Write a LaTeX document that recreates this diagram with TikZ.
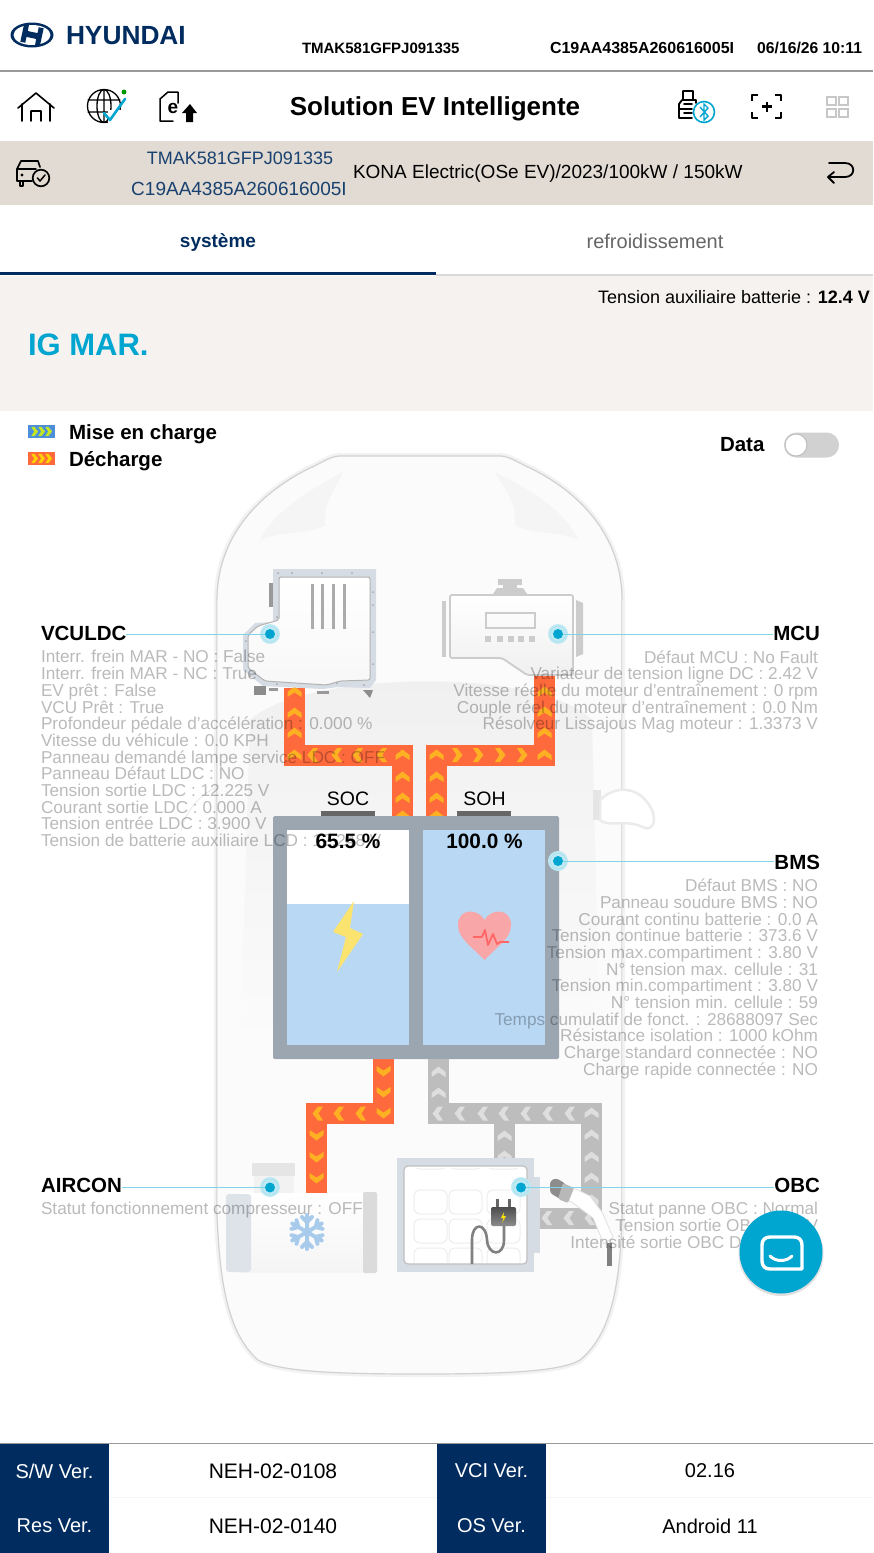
\documentclass[tikz,border=0pt]{standalone}
\usepackage{fontspec}
\setmainfont{Liberation Sans}
\usetikzlibrary{shadings}
\definecolor{navy}{HTML}{002C5F}
\definecolor{cyanb}{HTML}{00A5D0}
\definecolor{leader}{HTML}{7FD4E8}
\definecolor{beige}{HTML}{E2DBD3}
\definecolor{paneb}{HTML}{F5F2F0}
\definecolor{pipeo}{HTML}{FF6A3D}
\definecolor{chevo}{HTML}{FDB022}
\definecolor{pipeg}{HTML}{BDBDBD}
\definecolor{chevg}{HTML}{DEDEDE}
\definecolor{frameb}{HTML}{9BA6B1}
\definecolor{fillb}{HTML}{B9D8F4}
\definecolor{platec}{HTML}{D5DCE3}
\definecolor{boltc}{HTML}{FBE36F}
\definecolor{heartc}{HTML}{F9A6A8}
\definecolor{flakec}{HTML}{A8CBEC}
\definecolor{legblue}{HTML}{4C8FD8}
\definecolor{leglime}{HTML}{C5E625}
\definecolor{legyel}{HTML}{FFD000}
\newcommand{\fsz}[2]{\fontsize{#1}{#2}\selectfont}
\newcommand{\chv}[4]{\fill[#4,shift={(#1,#2)},rotate=#3] (-5,-7) -- (0,-7) -- (5.5,0) -- (0,7) -- (-5,7) -- (-0.5,0) -- cycle;}
\tikzset{
  x=1pt,y=-1pt,
  txt/.style={inner sep=0pt,outer sep=0pt,text=black},
  datal/.style={txt,text opacity=0.27,align=left,anchor=north west,font=\fsz{17.2}{16.7}},
  datar/.style={txt,text opacity=0.27,align=right,anchor=north east,font=\fsz{17.2}{16.7}},
  title/.style={txt,font=\fsz{20.5}{21}\bfseries},
  foot/.style={txt,font=\fsz{20}{20}},
  footh/.style={txt,text=white,font=\fsz{20}{20}},
  pipeorange/.style={draw=pipeo,line width=21pt,line cap=butt,line join=miter},
  pipegrey/.style={draw=pipeg,line width=21pt,line cap=butt,line join=miter},
  leaderline/.style={draw=leader,line width=1pt},
  hot/.style={circle,fill=cyanb,minimum size=10pt,inner sep=0pt},
  icon/.style={draw=black,line width=1.6pt,line join=round,line cap=round},
}
\begin{document}
\begin{tikzpicture}
\useasboundingbox (0,0) rectangle (873,1553);
\fill[white] (0,0) rectangle (873,1553);

% header
\fill[navy] (32,35) ellipse [x radius=21.5,y radius=12.5];
\fill[white] (32,35) ellipse [x radius=18.5,y radius=10];
\fill[navy,rotate around={-12:(32,35)}] (22,26) -- (27,26) -- (27,32) -- (37,32) -- (37,26) -- (42,26) -- (42,44) -- (37,44) -- (37,38) -- (27,38) -- (27,44) -- (22,44) -- cycle;
\node[txt,anchor=west,text=navy,font=\fsz{26.3}{26}\bfseries] (brand) at (66,35.5) {HYUNDAI};
\node[txt,anchor=west,font=\fsz{15}{16}\bfseries] (vin) at (302,48) {TMAK581GFPJ091335};
\node[txt,anchor=west,font=\fsz{16}{16}\bfseries] (cid) at (550,48) {C19AA4385A260616005I};
\node[txt,anchor=east,font=\fsz{15.7}{16}\bfseries] (dt) at (862,48) {06/16/26 10:11};
\fill[black!40] (0,70) rectangle (873,71.5);

% toolbar
\draw[icon] (18,108) -- (36,93) -- (54,108) (22,104) -- (22,121) (50,104) -- (50,121) (31,121) -- (31,111) -- (41,111) -- (41,121);
\draw[icon,line width=1.3pt] (104,106) circle (16.5) (104,106) ellipse [x radius=7,y radius=16.5] (88,100) -- (120,100) (88,112) -- (120,112) (104,90) -- (104,122);
\fill[white] (108,110) rectangle (124,124);
\draw[draw=cyanb,line width=2.6pt,line cap=round,line join=round] (104,113) -- (110,120) -- (125,99);
\fill[green!60!black] (124,92) circle (2.5);
\draw[icon,line width=1.5pt] (173,121) -- (160,121) -- (160,99) -- (168,92) -- (178,92) -- (178,103);
\node[txt,font=\fsz{19}{19}\bfseries] (einv) at (173,108) {e};
\fill[black] (190,104) -- (197,113) -- (193,113) -- (193,122) -- (186,122) -- (186,113) -- (182,113) -- cycle;
\node[txt,font=\fsz{26}{26}\bfseries] (apptitle) at (435,108.5) {Solution EV Intelligente};
\draw[icon,line width=1.8pt] (682,100) -- (696,100) -- (696,103) (682,100) -- (679,104) -- (679,118) -- (692,118) (683,91) rectangle (693,100) (679,109) -- (692,109) (684,104) -- (692,104) (684,113) -- (692,113);
\draw[draw=cyanb,line width=1.6pt,fill=white] (704,112) circle (10.5);
\draw[draw=cyanb,line width=1.4pt] (700,107) -- (708,116) -- (704,120) -- (704,104) -- (708,108) -- (700,117);
\draw[icon,line width=2.2pt,line cap=butt] (752,101) -- (752,95) -- (758,95) (775,95) -- (781,95) -- (781,101) (781,112) -- (781,118) -- (775,118) (758,118) -- (752,118) -- (752,112) (762,106.5) -- (772,106.5) (767,101.5) -- (767,111.5);
\draw[draw=black!22,line width=2pt] (827,97) rectangle (836,104.5) (839,97) rectangle (848,104.5) (827,109) rectangle (836,116.5) (839,109) rectangle (848,116.5);

% vehicle band
\fill[beige] (0,141) rectangle (873,205);
\draw[icon,line width=1.7pt] (17,181) -- (17,169) -- (21,161) -- (38,161) -- (40,167) (17,169) -- (36,169) (17,181) -- (32,181) (20,181) -- (20,186) -- (23,186) -- (23,181);
\fill[black] (22,175) circle (1.6);
\draw[icon,line width=1.7pt] (41,178) circle (8.3);
\draw[icon,line width=1.5pt] (37.5,178) -- (40,181) -- (45,175);
\node[txt,text=navy!90,font=\fsz{18}{20}] (vin2) at (240,158) {TMAK581GFPJ091335};
\node[txt,text=navy!90,font=\fsz{19}{20}] (cid2) at (239,188.5) {C19AA4385A260616005I};
\node[txt,anchor=west,font=\fsz{19}{20}] (model) at (353,174) {KONA Electric(OSe EV)/2023/100kW / 150kW};
\draw[icon,line width=1.8pt,line cap=round] (829,163) -- (845,163) .. controls (856,163) and (856,177) .. (845,177) -- (829,177);
\draw[icon,line width=1.8pt] (834,172) -- (828,177) -- (834,183);

% tabs
\node[txt,text=navy,font=\fsz{19}{19}\bfseries] (tab1) at (218,242) {système};
\node[txt,text=black!60,font=\fsz{20}{20}] (tab2) at (655,241.5) {refroidissement};
\fill[black!15] (436,274) rectangle (873,276);
\fill[navy] (0,272) rectangle (436,275);

% status panel
\fill[paneb] (0,276) rectangle (873,411);
\node[txt,anchor=east,font=\fsz{18}{19}] (aux) at (870,297.5) {Tension auxiliaire batterie : \textbf{12.4 V}};
\node[txt,anchor=west,text=cyanb,font=\fsz{31}{32}\bfseries] (ig) at (28,345) {IG MAR.};

% legend
\fill[legblue] (28,425) rectangle (55,438);
\foreach \q in {34.5,41.5,48.5}{\fill[leglime,shift={(\q,431.5)},scale=0.65] (-5,-7) -- (0,-7) -- (5.5,0) -- (0,7) -- (-5,7) -- (-0.5,0) -- cycle;}
\fill[pipeo] (28,452) rectangle (55,465);
\foreach \q in {34.5,41.5,48.5}{\fill[legyel,shift={(\q,458.5)},scale=0.65] (-5,-7) -- (0,-7) -- (5.5,0) -- (0,7) -- (-5,7) -- (-0.5,0) -- cycle;}
\node[title,anchor=west] (leg1) at (69,434.5) {Mise en charge};
\node[title,anchor=west] (leg2) at (69,461.5) {Décharge};
\node[title,anchor=west] (datalbl) at (720,445) {Data};
\fill[black!18,rounded corners=12.4pt] (784,432.5) rectangle (839,457.5);
\draw[fill=white,draw=black!25,line width=1pt] (796,445) circle (11);

% car body
\def\carpath{(340,456) -- (500,456) .. controls (510,456) and (520,464) .. (530,468) .. controls (585,495) and (622,540) .. (622,600) -- (622,1215) .. controls (620,1290) and (610,1335) .. (580,1360) .. controls (560,1372) and (500,1374) .. (420,1374) .. controls (340,1374) and (280,1372) .. (258,1360) .. controls (230,1335) and (220,1290) .. (217,1215) -- (217,600) .. controls (217,540) and (255,495) .. (310,468) .. controls (320,464) and (330,456) .. (340,456) -- cycle}
\draw[draw=black!5,line width=6pt] \carpath;
\draw[draw=black!18,line width=1.2pt,fill=black!1.5] \carpath;
\fill[black!4] (343,472) .. controls (310,490) and (275,510) .. (260,540) .. controls (285,530) and (310,535) .. (325,525) .. controls (322,505) and (335,490) .. (343,472) -- cycle;
\fill[black!4] (495,472) .. controls (530,490) and (565,510) .. (578,540) .. controls (555,530) and (530,535) .. (515,525) .. controls (518,505) and (505,490) .. (495,472) -- cycle;
\shade[top color=black!6,bottom color=black!1.5] (250,720) .. controls (300,672) and (540,665) .. (592,720) -- (600,1050) -- (240,1050) -- cycle;
\draw[draw=black!8,line width=1pt] (217,600) -- (217,1215) (622,600) -- (622,1215);
\fill[black!10] (593,790) rectangle (601,820);
\draw[draw=black!8,line width=2.5pt,fill=white] (600,800) .. controls (615,785) and (640,785) .. (652,810) .. controls (657,822) and (652,830) .. (645,828) .. controls (625,818) and (610,828) .. (600,820) -- cycle;
\draw[draw=black!8,line width=1pt] (181,830) .. controls (188,805) and (205,792) .. (217,787);

% pipes (under the components)
\draw[pipeorange] (294.5,688) -- (294.5,755) -- (402.5,755) -- (402.5,816);
\draw[pipeorange] (436.5,816) -- (436.5,755) -- (544.5,755) -- (544.5,675);
\draw[pipeorange] (383.5,1058) -- (383.5,1113.5) -- (316.5,1113.5) -- (316.5,1195);
\draw[pipegrey] (438.5,1058) -- (438.5,1113.5) -- (591.5,1113.5) -- (591.5,1218) -- (535,1218);
\draw[pipegrey] (504.5,1113) -- (504.5,1160);
\foreach \p in {692,713,733,755}{\chv{294.5}{\p}{90}{chevo}}
\foreach \p in {313,337,358,382}{\chv{\p}{755}{180}{chevo}}
\foreach \p in {755,777,798,816}{\chv{402.5}{\p}{90}{chevo}}
\foreach \p in {755,777,798,816}{\chv{436.5}{\p}{90}{chevo}}
\foreach \p in {457,478,500,522}{\chv{\p}{755}{0}{chevo}}
\foreach \p in {755,733,712,692}{\chv{544.5}{\p}{90}{chevo}}
\foreach \p in {1071,1092,1113}{\chv{383.5}{\p}{270}{chevo}}
\foreach \p in {361,339,318}{\chv{\p}{1113.5}{180}{chevo}}
\foreach \p in {1135,1157,1178}{\chv{316.5}{\p}{270}{chevo}}
\foreach \p in {1072,1093}{\chv{438.5}{\p}{90}{chevg}}
\foreach \p in {438,460,483,504,526,548,570}{\chv{\p}{1113.5}{180}{chevg}}
\foreach \p in {1113,1135,1157,1178,1200}{\chv{591.5}{\p}{90}{chevg}}
\foreach \p in {1136,1156}{\chv{504.5}{\p}{90}{chevg}}
\foreach \p in {547,569,590}{\chv{\p}{1218}{180}{chevg}}

% VCU / LDC unit
\fill[platec] (273,569) -- (376,569) -- (376,680) -- (370,688) -- (337,687) -- (323,689) -- (263,686) -- (243,670) -- (243,635) -- (255,623) -- (273,622) -- cycle;
\shade[top color=white,bottom color=black!3,draw=black!30,line width=1pt,rounded corners=2pt] (279,577) -- (370,577) -- (370,680) -- (340,681) -- (327,685) -- (265,681) -- (248,668) -- (248,635) -- (258,626) -- (279,620) -- cycle;
\foreach \q in {312,322,333,344}{\fill[black!33] (\q-1.5,584) rectangle (\q+1.5,629);}
\fill[black!45] (254,686) rectangle (266,695);
\fill[black!40] (269,688) rectangle (278,691);
\fill[black!40] (317,691) rectangle (329,694);
\fill[black!45] (363,690) -- (373,690) -- (370,698) -- cycle;
\fill[black!40] (269,583) rectangle (273,607);
\foreach \a/\b in {278/573,292/573,322/573,352/573,373/592,373/605,373/632,373/664,277/617,246/641,250/676,277/684,337/683,364/685}{\fill[black!35] (\a,\b) circle (1);}

% MCU unit
\fill[black!20] (498,579) rectangle (522,585);
\fill[black!20] (503,585) rectangle (517,588);
\fill[black!20] (493,594) -- (497,588) -- (523,588) -- (527,594) -- cycle;
\fill[black!20] (442,601) rectangle (446,657);
\fill[black!20] (576,600) -- (583,603) -- (583,654) -- (576,657) -- cycle;
\shade[top color=white,bottom color=black!6,draw=black!20,line width=1.8pt,rounded corners=2pt] (450,595) -- (573,595) -- (573,675) -- (527,675) -- (502,658) -- (450,658) -- cycle;
\draw[draw=black!20,line width=1.6pt] (486,613) rectangle (535,628);
\foreach \q in {485,497,508,518,529}{\fill[black!20] (\q,636) rectangle (\q+6,642);}

% battery
\fill[black!60] (321,811) rectangle (375,817);
\fill[black!60] (457,811) rectangle (511,817);
\fill[frameb,rounded corners=1.5pt] (273,816) rectangle (559,1059);
\fill[white] (287,830) rectangle (409,904);
\fill[fillb] (287,904) rectangle (409,1045);
\fill[fillb] (423,830) rectangle (545,1045);
\fill[boltc] (354,901) -- (333,932) -- (346,937) -- (337,972) -- (363,934) -- (350,928) -- cycle;
\fill[heartc] (484.5,960) .. controls (470,945) and (458,938) .. (458,925) .. controls (458,908) and (478,908) .. (484.5,920) .. controls (491,908) and (511,908) .. (511,925) .. controls (511,938) and (499,945) .. (484.5,960) -- cycle;
\draw[draw=red!60!white,line width=1.8pt,line join=round] (473,937) -- (482,937) -- (485,930) -- (488,945) -- (493,934) -- (497,944) -- (500,942) -- (509,942);
\node[txt,font=\fsz{19.5}{20}] (socl) at (348,798.5) {SOC};
\node[txt,font=\fsz{19.5}{20}] (sohl) at (484.5,798.5) {SOH};
\node[txt,font=\fsz{20.8}{21}\bfseries] (socv) at (348,841) {65.5 \%};
\node[txt,font=\fsz{20.8}{21}\bfseries] (sohv) at (484.5,841) {100.0 \%};

% aircon compressor
\fill[black!10] (252,1163) rectangle (295,1176);
\fill[black!5] (254,1176) rectangle (294,1196);
\shade[top color=white,bottom color=black!4] (240,1193) rectangle (365,1272);
\fill[platec!80,rounded corners=3pt] (226,1194) rectangle (251,1272);
\fill[black!14,rounded corners=2pt] (363,1192) rectangle (377,1273);
\begin{scope}[shift={(307,1232)},line cap=round]
\foreach \t in {90,150,210,270,330,30}{
  \draw[rotate=\t,draw=flakec,line width=4pt] (0,0) -- (17,0) (10,0) -- (15,5) (10,0) -- (15,-5);
}
\end{scope}

% charger
\fill[platec] (397,1158) rectangle (534,1272);
\fill[platec] (534,1177) rectangle (540,1253);
\draw[fill=white,draw=black!25,line width=1.2pt,rounded corners=4pt] (404,1166) rectangle (527,1264);
\begin{scope}
\clip (406,1168) rectangle (525,1262);
\foreach \a in {414,449,487}{\foreach \b in {1145,1190,1219,1248}{\draw[draw=black!7,line width=1pt,rounded corners=6pt] (\a,\b) rectangle (\a+33,\b+24);}}
\end{scope}
\draw[draw=black!50,line width=2.6pt,line join=round] (504,1226) -- (504,1240) .. controls (504,1257) and (488,1256) .. (487,1240) .. controls (486,1222) and (472,1222) .. (472,1240) -- (472,1264);
\draw[draw=black!60,line width=3pt] (497,1199) -- (497,1208) (509,1199) -- (509,1208);
\shade[top color=black!70,bottom color=black!45,rounded corners=2pt] (491,1207) rectangle (516,1226);
\fill[yellow!85!orange] (504,1212) -- (501,1218) -- (503.5,1218) -- (502,1223) -- (506,1216) -- (503.5,1216) -- cycle;

% charging gun
\fill[black!50] (607,1243) rectangle (612,1266);
\fill[white,draw=black!12,line width=0.8pt] (567,1187) -- (578,1190) -- (590,1196) -- (602,1212) -- (613,1237) -- (604,1244) -- (593,1218) -- (573,1203) -- (563,1198) -- cycle;
\fill[black!45,rounded corners=3pt] (550,1181) -- (556,1178) -- (566,1184) -- (562,1200) -- (550,1193) -- cycle;
\fill[black!28,rounded corners=2pt] (563,1183) -- (574,1188) -- (568,1203) -- (558,1199) -- cycle;

% hotspots, labels and leaders
\foreach \a/\b in {270/634,558/634,558/861,270/1187,521/1187}{
  \fill[cyanb!25] (\a,\b) circle (10);
  \draw[draw=cyanb!35,line width=0.5pt] (\a,\b) circle (8);
}
\node[hot] (hvcu) at (270,634) {};
\node[hot] (hmcu) at (558,634) {};
\node[hot] (hbms) at (558,861) {};
\node[hot] (hair) at (270,1187.5) {};
\node[hot] (hobc) at (521,1187.5) {};
\node[title,anchor=west] (lvcu) at (41,633.5) {VCULDC};
\node[title,anchor=east] (lmcu) at (820,633.5) {MCU};
\node[title,anchor=east] (lbms) at (820,862.5) {BMS};
\node[title,anchor=west] (lair) at (41,1185.5) {AIRCON};
\node[title,anchor=east] (lobc) at (820,1185.5) {OBC};
\draw[leaderline] (hvcu.west) -- (hvcu.west -| lvcu.east);
\draw[leaderline] (hmcu.east) -- (hmcu.east -| lmcu.west);
\draw[leaderline] (hbms.east) -- (hbms.east -| lbms.west);
\draw[leaderline] (hair.west) -- (hair.west -| lair.east);
\draw[leaderline] (hobc.east) -- (hobc.east -| lobc.west);

% data lists
\node[datal] (dvcu) at (41,650.5) {Interr. frein MAR - NO : False\\Interr. frein MAR - NC : True\\EV prêt : False\\VCU Prêt : True\\Profondeur pédale d'accélération : 0.000 \%\\Vitesse du véhicule : 0.0 KPH\\Panneau demandé lampe service LDC : OFF\\Panneau Défaut LDC : NO\\Tension sortie LDC : 12.225 V\\Courant sortie LDC : 0.000 A\\Tension entrée LDC : 3.900 V\\Tension de batterie auxiliaire LCD : 12.248 V};
\node[datar] (dmcu) at (818,650.5) {Défaut MCU : No Fault~\\Variateur de tension ligne DC : 2.42 V\\Vitesse réelle du moteur d'entraînement : 0 rpm\\Couple réel du moteur d'entraînement : 0.0 Nm\\Résolveur Lissajous Mag moteur : 1.3373 V};
\node[datar] (dbms) at (818,879) {Défaut BMS : NO~\\Panneau soudure BMS : NO~\\Courant continu batterie : 0.0 A\\Tension continue batterie : 373.6 V\\Tension max.compartiment : 3.80 V\\N° tension max. cellule : 31~\\Tension min.compartiment : 3.80 V\\N° tension min. cellule : 59~\\Temps cumulatif de fonct. : 28688097 Sec\\Résistance isolation : 1000 kOhm\\Charge standard connectée : NO~\\Charge rapide connectée : NO~};
\node[datal] (dair) at (41,1202.5) {Statut fonctionnement compresseur : OFF};
\node[datar] (dobc) at (818,1202.5) {Statut panne OBC : Normal~\\Tension sortie OBC : 0.0 V\\Intensité sortie OBC DC : 0.00 A};

% chat button
\fill[black!12] (781,1253.5) circle (42.5);
\fill[cyanb] (781,1252) circle (41.5);
\draw[draw=white,line width=3.4pt,line join=round] (802,1269) -- (770,1269) .. controls (765,1269) and (762,1266) .. (762,1261) -- (762,1245) .. controls (762,1240) and (765,1237) .. (770,1237) -- (794,1237) .. controls (799,1237) and (802,1240) .. (802,1245) -- cycle;
\draw[draw=white,line width=3pt,line cap=round] (770,1256) .. controls (776,1262) and (786,1262) .. (792,1256);

% footer
\fill[black!40] (0,1442.5) rectangle (873,1444);
\fill[navy] (0,1444) rectangle (109,1553);
\fill[navy] (437,1444) rectangle (546,1553);
\draw[draw=black!4,line width=0.8pt] (109,1497.5) -- (437,1497.5) (546,1497.5) -- (873,1497.5);
\node[footh] (f1) at (54.5,1471) {S/W Ver.};
\node[footh] (f2) at (54.5,1526) {Res Ver.};
\node[footh] (f3) at (491.5,1471) {VCI Ver.};
\node[footh] (f4) at (491.5,1526) {OS Ver.};
\node[foot,font=\fsz{21}{21}] (g1) at (273,1471) {NEH-02-0108};
\node[foot,font=\fsz{21}{21}] (g2) at (273,1526) {NEH-02-0140};
\node[foot] (g3) at (710,1471) {02.16};
\node[foot] (g4) at (710,1526) {Android 11};
\end{tikzpicture}
\end{document}
